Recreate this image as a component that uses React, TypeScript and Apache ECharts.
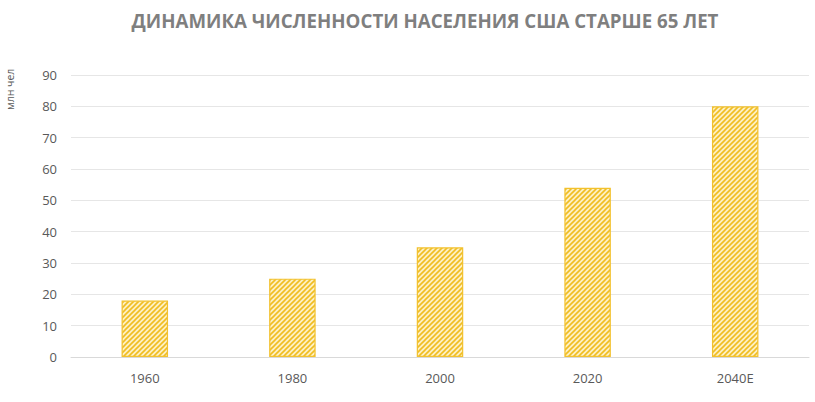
import React, { useEffect, useRef } from "react";
import * as echarts from "echarts";

const title = "ДИНАМИКА ЧИСЛЕННОСТИ НАСЕЛЕНИЯ США СТАРШЕ 65 ЛЕТ";
const unitLabel = "млн чел";
const categories = ["1960", "1980", "2000", "2020", "2040E"];
const values = [18, 25, 35, 54, 80];
const yTicks = { min: 0, max: 90, interval: 10 };

function makeHatch(): HTMLCanvasElement {
  const s = 5;
  const c = document.createElement("canvas");
  c.width = s;
  c.height = s;
  const ctx = c.getContext("2d")!;
  ctx.fillStyle = "#FDF0C4";
  ctx.fillRect(0, 0, s, s);
  ctx.strokeStyle = "#F0BD22";
  ctx.lineWidth = 1.6;
  ctx.beginPath();
  ctx.moveTo(0, s);
  ctx.lineTo(s, 0);
  ctx.moveTo(-1, 1);
  ctx.lineTo(1, -1);
  ctx.moveTo(s - 1, s + 1);
  ctx.lineTo(s + 1, s - 1);
  ctx.stroke();
  return c;
}

export default function App() {
  const ref = useRef<HTMLDivElement>(null);
  useEffect(() => {
    const chart = echarts.init(ref.current!, undefined, { renderer: "svg" });
    const hatch = makeHatch();
    chart.setOption({
      animation: false,
      title: {
        text: title,
        left: 420,
        textAlign: "center",
        top: 6,
        textStyle: {
          fontFamily: "Open Sans",
          fontSize: 18.7,
          fontWeight: "bold",
          color: "#7F7F7F",
        },
      },
      graphic: [
        {
          type: "text",
          x: 4,
          y: 110,
          rotation: Math.PI / 2,
          style: {
            text: unitLabel,
            fontFamily: "Open Sans",
            fontSize: 10.5,
            fill: "#595959",
          },
        },
      ],
      grid: { left: 71, right: 6, top: 75, bottom: 45, containLabel: false },
      xAxis: {
        type: "category",
        data: categories,
        axisLine: { lineStyle: { color: "#D9D9D9" } },
        axisTick: { show: false },
        axisLabel: {
          color: "#595959",
          fontSize: 13,
          fontFamily: "Open Sans",
          margin: 14,
        },
      },
      yAxis: {
        type: "value",
        min: yTicks.min,
        max: yTicks.max,
        interval: yTicks.interval,
        axisLine: { show: false },
        axisTick: { show: false },
        splitLine: { lineStyle: { color: "#E6E6E6" } },
        axisLabel: {
          color: "#595959",
          fontSize: 13,
          fontFamily: "Open Sans",
          margin: 14,
        },
      },
      series: [
        {
          type: "bar",
          data: values,
          barWidth: "31.5%",
          itemStyle: {
            color: { image: hatch, repeat: "repeat" },
            borderColor: "#F2C12E",
            borderWidth: 1.2,
          },
        },
      ],
    });
    return () => chart.dispose();
  }, []);
  return (
    <div
      ref={ref}
      style={{ position: "fixed", left: 0, top: 0, width: 815, height: 402, background: "#fff" }}
    />
  );
}
